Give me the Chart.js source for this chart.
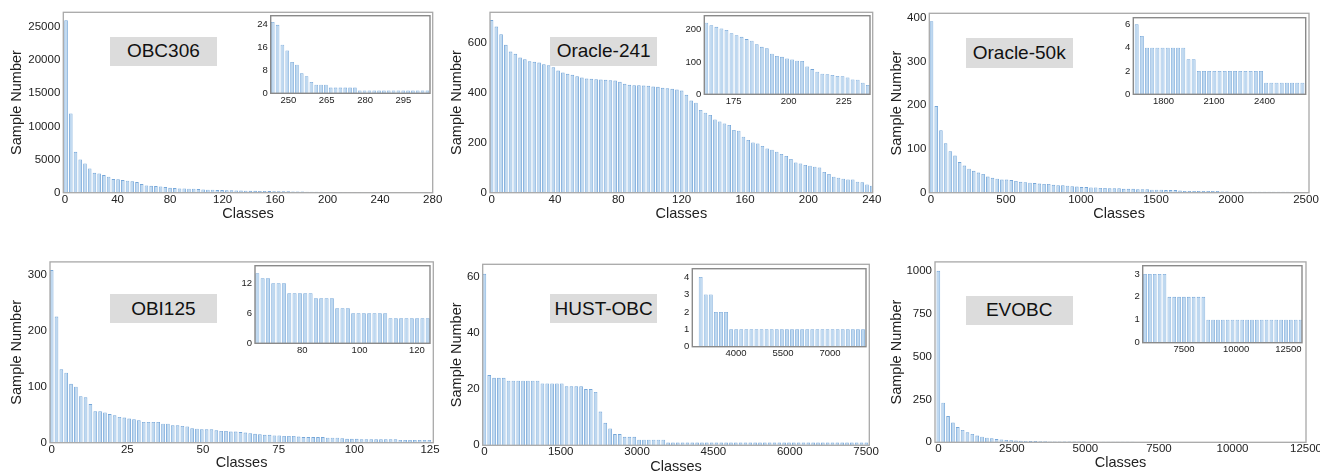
<!DOCTYPE html>
<html lang="en">
<head>
<meta charset="UTF-8">
<title>Sample number per class</title>
<script src="https://cdn.jsdelivr.net/npm/chart.js"></script>
<style>
  html, body { margin: 0; padding: 0; background: #fff; overflow: hidden; }
  body { width: 1320px; height: 472px; position: relative; }
  canvas { position: absolute; }
  .tag {
    position: absolute; background: #dcdcdc; color: #111;
    font-family: "Liberation Sans", Arial, sans-serif; font-size: 19px;
    display: flex; align-items: center; justify-content: center;
  }
</style>
</head>
<body>
<script>
// ---- OBC306 ----
const obc306Values = [26000, 11950, 6170, 5020, 4420, 3660, 3010, 2910, 2660, 2410,
  2060, 2010, 1910, 1810, 1710, 1610, 1300, 1100, 1050, 1000,
  950, 850, 750, 700, 650, 650, 600, 600, 550, 500,
  450, 450, 400, 400, 380, 360, 340, 320, 300, 290,
  280, 260, 250, 240, 230, 220, 210, 200, 190, 180,
  170, 160, 150, 140, 130, 120, 110, 100, 90, 80,
  70, 60, 50, 40, 30];
const obc306First = 0.8, obc306Step = 3.6;
const obc306XTicks = [0, 40, 80, 120, 160, 200, 240, 280];
const obc306YTicks = [0, 5000, 10000, 15000, 20000, 25000];
const obc306InsetValues = [25, 24, 17, 15, 11, 10, 7, 6, 4, 3, 3, 3, 2, 2, 2, 2, 2, 2,
  1, 1, 1, 1, 1, 1, 1, 1, 1, 1, 1, 1, 1, 1, 1];
const obc306InsetFirst = 243.9, obc306InsetStep = 1.89;
const obc306InsetXTicks = [250, 265, 280, 295];
const obc306InsetYTicks = [0, 8, 16, 24];

// ---- Oracle-241 ----
const oracle241Values = [690, 664, 633, 591, 564, 555, 540, 533, 525, 523,
  520, 513, 509, 501, 488, 480, 475, 471, 465, 460,
  456, 455, 453, 452, 451, 449, 448, 443, 435, 431,
  429, 429, 428, 427, 424, 423, 419, 417, 415, 412,
  408, 391, 368, 360, 331, 320, 311, 293, 285, 277,
  271, 251, 248, 224, 211, 201, 197, 187, 177, 172,
  164, 155, 147, 135, 121, 117, 111, 108, 104, 101,
  83, 75, 64, 60, 56, 53, 53, 44, 42, 33, 28];
const oracle241First = 0, oracle241Step = 3;
const oracle241XTicks = [0, 40, 80, 120, 160, 200, 240];
const oracle241YTicks = [0, 200, 400, 600];
const oracle241InsetValues = [222, 214, 209, 204, 199, 189, 183, 178, 171, 166, 155, 147, 143,
  126, 119, 116, 111, 108, 104, 103, 86, 78, 70, 64, 62, 60, 57, 56, 52, 46, 45, 36, 29];
const oracle241InsetFirst = 162.6, oracle241InsetStep = 2.29;
const oracle241InsetXTicks = [175, 200, 225];
const oracle241InsetYTicks = [0, 100, 200];

// ---- Oracle-50k ----
const oracle50kValues = [392, 198, 143, 113, 95, 85, 70, 62, 55, 50,
  46, 43, 37, 34, 32, 30, 30, 29, 27, 25,
  24, 23, 22, 21, 20, 20, 18, 17, 17, 16,
  15, 14, 13, 13, 12, 12, 11, 11, 10, 10,
  10, 9, 9, 9, 8, 8, 8, 7, 7, 7,
  6, 6, 6, 5, 4, 4, 4, 4, 4, 4,
  4, 4, 3, 3, 2, 2, 2, 2, 2, 2,
  2, 2, 2, 2, 2, 2, 2, 1, 1, 1];
const oracle50kFirst = 4, oracle50kStep = 31.25;
const oracle50kXTicks = [0, 500, 1000, 1500, 2000, 2500];
const oracle50kYTicks = [0, 100, 200, 300, 400];
const oracle50kInsetValues = [6, 5, 4, 4, 4, 4, 4, 4, 4, 4, 3, 3,
  2, 2, 2, 2, 2, 2, 2, 2, 2, 2, 2, 2, 2, 1, 1, 1, 1, 1, 1, 1, 1];
const oracle50kInsetFirst = 1640, oracle50kInsetStep = 30.8;
const oracle50kInsetXTicks = [1800, 2100, 2400];
const oracle50kInsetYTicks = [0, 2, 4, 6];

// ---- OBI125 ----
const obi125Values = [308, 225, 131, 125, 105, 100, 83, 81, 69, 56,
  56, 54, 51, 49, 46, 45, 43, 42, 40, 37,
  37, 37, 37, 34, 34, 31, 31, 30, 29, 26,
  25, 24, 24, 24, 22, 21, 21, 20, 20, 19,
  18, 17, 16, 15, 14, 14, 13, 13, 12, 12,
  12, 11, 10, 10, 10, 10, 10, 9, 9, 9,
  8, 7, 7, 7, 6, 6, 6, 6, 6, 6,
  6, 6, 5, 5, 5, 5, 5, 5, 5];
const obi125First = 0, obi125Step = 1.6;
const obi125XTicks = [0, 25, 50, 75, 100, 125];
const obi125YTicks = [0, 100, 200, 300];
const obi125InsetValues = [14, 13, 13, 12, 12, 12, 10, 10, 10, 10, 10, 9, 9, 9, 9,
  7, 7, 7, 6, 6, 6, 6, 6, 6, 6, 5, 5, 5, 5, 5, 5, 5, 5];
const obi125InsetFirst = 64.3, obi125InsetStep = 1.86;
const obi125InsetXTicks = [80, 100, 120];
const obi125InsetYTicks = [0, 6, 12];

// ---- HUST-OBC ----
const hustValues = [61, 25, 24, 24, 24, 23, 23, 23, 23, 23,
  23, 23, 22, 22, 22, 22, 22, 21, 21, 21,
  21, 20, 20, 19, 12, 8, 6, 4, 4, 3,
  3, 3, 2, 2, 2, 2, 2, 2, 1, 1,
  1, 1, 1, 1, 1, 1, 1, 1, 1, 1,
  1, 1, 1, 1, 1, 1, 1, 1, 1, 1,
  1, 1, 1, 1, 1, 1, 1, 1, 1, 1,
  1, 1, 1, 1, 1, 1, 1, 1, 1, 1];
const hustFirst = 0, hustStep = 95;
const hustXTicks = [0, 1500, 3000, 4500, 6000, 7500];
const hustYTicks = [0, 20, 40, 60];
const hustInsetValues = [4, 3, 3, 2, 2, 2, 1, 1, 1, 1, 1, 1, 1, 1, 1, 1, 1,
  1, 1, 1, 1, 1, 1, 1, 1, 1, 1, 1, 1, 1, 1, 1, 1];
const hustInsetFirst = 2873, hustInsetStep = 161.9;
const hustInsetXTicks = [4000, 5500, 7000];
const hustInsetYTicks = [0, 1, 2, 3, 4];

// ---- EVOBC ----
const evobcValues = [1000, 231, 153, 115, 89, 72, 58, 49, 39, 33,
  27, 23, 19, 17, 14, 12, 10, 9, 8, 7,
  7, 6, 6, 5, 5, 5, 4, 4, 4, 4,
  4, 3, 3, 3, 3, 3, 3, 3, 3, 3,
  3, 2, 2, 2, 2, 2, 2, 2, 2, 2,
  2, 2, 1, 1, 1, 1, 1, 1, 1, 1,
  1, 1, 1, 1, 1, 1, 1, 1, 1, 1,
  1, 1, 1, 1, 1, 1];
const evobcFirst = 0, evobcStep = 165;
const evobcXTicks = [0, 2500, 5000, 7500, 10000, 12500];
const evobcYTicks = [0, 250, 500, 750, 1000];
const evobcInsetValues = [3, 3, 3, 3, 3, 2, 2, 2, 2, 2, 2, 2, 2,
  1, 1, 1, 1, 1, 1, 1, 1, 1, 1, 1, 1, 1, 1, 1, 1, 1, 1, 1, 1];
const evobcInsetFirst = 5631, evobcInsetStep = 233;
const evobcInsetXTicks = [7500, 10000, 12500];
const evobcInsetYTicks = [0, 1, 2, 3];

const names = ['OBC306', 'Oracle-241', 'Oracle-50k', 'OBI125', 'HUST-OBC', 'EVOBC'];

const panels = [
  { main: { values: obc306Values, first: obc306First, step: obc306Step, xMin: -1.3, xMax: 280, xTicks: obc306XTicks, yMax: 27200, yTicks: obc306YTicks },
    inset: { values: obc306InsetValues, first: obc306InsetFirst, step: obc306InsetStep, xMin: 243.1, xMax: 305.4, xTicks: obc306InsetXTicks, yMax: 27.2, yTicks: obc306InsetYTicks },
    box: { l: 63.3, r: 432.7, t: 12.3, b: 192.7, yTitle: 16.7, xTitle: 214.3 },
    ibox: { l: 270.7, r: 430, t: 15, b: 93.3 },
    tag: { l: 110, t: 36.7, w: 106.7, h: 29 } },
  { main: { values: oracle241Values, first: oracle241First, step: oracle241Step, xMin: -1, xMax: 240.6, xTicks: oracle241XTicks, yMax: 721, yTicks: oracle241YTicks },
    inset: { values: oracle241InsetValues, first: oracle241InsetFirst, step: oracle241InsetStep, xMin: 161.7, xMax: 236.9, xTicks: oracle241InsetXTicks, yMax: 243.5, yTicks: oracle241InsetYTicks },
    box: { l: 490, r: 872.7, t: 12.3, b: 192.7, yTitle: 456.7, xTitle: 214.3 },
    ibox: { l: 704.3, r: 870, t: 15, b: 94.3 },
    tag: { l: 550, t: 36.7, w: 107.3, h: 29 } },
  { main: { values: oracle50kValues, first: oracle50kFirst, step: oracle50kStep, xMin: -11, xMax: 2520, xTicks: oracle50kXTicks, yMax: 410, yTicks: oracle50kYTicks },
    inset: { values: oracle50kInsetValues, first: oracle50kInsetFirst, step: oracle50kInsetStep, xMin: 1620, xMax: 2645, xTicks: oracle50kInsetXTicks, yMax: 6.57, yTicks: oracle50kInsetYTicks },
    box: { l: 929.3, r: 1309, t: 13.3, b: 192.7, yTitle: 896.7, xTitle: 214.3 },
    ibox: { l: 1133.3, r: 1305.7, t: 16.7, b: 94.3 },
    tag: { l: 965.7, t: 38.3, w: 107, h: 29.4 } },
  { main: { values: obi125Values, first: obi125First, step: obi125Step, xMin: -0.55, xMax: 126.1, xTicks: obi125XTicks, yMax: 322.6, yTicks: obi125YTicks },
    inset: { values: obi125InsetValues, first: obi125InsetFirst, step: obi125InsetStep, xMin: 63.5, xMax: 124.6, xTicks: obi125InsetXTicks, yMax: 15.5, yTicks: obi125InsetYTicks },
    box: { l: 50, r: 433.3, t: 261.7, b: 442.7, yTitle: 16.7, xTitle: 463.3 },
    ibox: { l: 255, r: 430, t: 265, b: 343.3 },
    tag: { l: 110, t: 294, w: 106.7, h: 29.3 } },
  { main: { values: hustValues, first: hustFirst, step: hustStep, xMin: -33, xMax: 7563, xTicks: hustXTicks, yMax: 64.4, yTicks: hustYTicks },
    inset: { values: hustInsetValues, first: hustInsetFirst, step: hustInsetStep, xMin: 2606, xMax: 8149, xTicks: hustInsetXTicks, yMax: 4.48, yTicks: hustInsetYTicks },
    box: { l: 482.7, r: 869.3, t: 264.3, b: 445.3, yTitle: 456.7, xTitle: 466.7 },
    ibox: { l: 692.3, r: 866, t: 268.3, b: 346.7 },
    tag: { l: 550, t: 294, w: 107.3, h: 29.3 } },
  { main: { values: evobcValues, first: evobcFirst, step: evobcStep, xMin: -114, xMax: 12500, xTicks: evobcXTicks, yMax: 1052, yTicks: evobcYTicks },
    inset: { values: evobcInsetValues, first: evobcInsetFirst, step: evobcInsetStep, xMin: 5519, xMax: 13155, xTicks: evobcInsetXTicks, yMax: 3.36, yTicks: evobcInsetYTicks },
    box: { l: 935, r: 1306, t: 261.7, b: 442.3, yTitle: 896.7, xTitle: 463.3 },
    ibox: { l: 1142.7, r: 1302, t: 265, b: 342.7 },
    tag: { l: 965.7, t: 295.7, w: 107, h: 29.3 } }
];

Chart.defaults.font.family = '"Liberation Sans", Arial, sans-serif';
Chart.defaults.color = '#222';

const barFill = 'rgb(190, 216, 240)';
const barEdge = 'rgb(118, 167, 217)';

function framePlugin(color, width, fillWhite) {
  return {
    id: 'frame',
    beforeDraw(chart) {
      if (!fillWhite) return;
      const a = chart.chartArea, ctx = chart.ctx;
      ctx.save();
      ctx.fillStyle = '#fff';
      ctx.fillRect(a.left, a.top, a.right - a.left, a.bottom - a.top);
      ctx.restore();
    },
    afterDraw(chart) {
      const a = chart.chartArea, ctx = chart.ctx;
      ctx.save();
      ctx.strokeStyle = color;
      ctx.lineWidth = width;
      ctx.strokeRect(a.left, a.top, a.right - a.left, a.bottom - a.top);
      ctx.restore();
    }
  };
}

function makeCanvas(left, top, width, height) {
  const c = document.createElement('canvas');
  c.width = width; c.height = height;
  c.style.left = left + 'px'; c.style.top = top + 'px';
  c.style.width = width + 'px'; c.style.height = height + 'px';
  document.body.appendChild(c);
  return c;
}

function drawBars(spec, geo, small) {
  const canvasLeft = geo.canvasLeft;
  const canvasTop = Math.round(geo.t) - geo.padTop;
  const width = Math.ceil(geo.r + geo.padRight - canvasLeft);
  const height = Math.ceil(geo.bottomEdge - canvasTop);
  const yWidth = geo.l - canvasLeft;
  const xHeight = canvasTop + height - geo.b;
  const canvas = makeCanvas(canvasLeft, canvasTop, width, height);

  const tickFont = { size: small ? 9.5 : 11.5 };
  const points = spec.values.map((v, i) => ({ x: spec.first + spec.step * i, y: v }));

  new Chart(canvas, {
    type: 'bar',
    data: {
      datasets: [{
        data: points,
        backgroundColor: barFill,
        borderColor: barEdge,
        borderWidth: small ? 0.8 : 0.9,
        categoryPercentage: 1,
        barPercentage: 0.76
      }]
    },
    options: {
      responsive: false,
      animation: false,
      devicePixelRatio: 1,
      layout: { padding: { top: geo.t - canvasTop, right: canvasLeft + width - geo.r, left: 0, bottom: 0 } },
      plugins: { legend: { display: false }, tooltip: { enabled: false } },
      scales: {
        x: {
          type: 'linear', min: spec.xMin, max: spec.xMax, offset: false,
          grid: { display: false, drawTicks: false }, border: { display: false },
          afterBuildTicks: s => { s.ticks = spec.xTicks.map(v => ({ value: v })); },
          afterFit: s => { s.height = xHeight; },
          ticks: { autoSkip: false, maxRotation: 0, minRotation: 0, padding: small ? 1 : 0, font: tickFont, color: '#222', callback: v => String(v) },
          title: { display: !small, text: 'Classes', color: '#222', font: { size: 14.5 }, padding: { top: 0, bottom: 4 } }
        },
        y: {
          type: 'linear', min: 0, max: spec.yMax,
          grid: { display: false, drawTicks: false }, border: { display: false },
          afterBuildTicks: s => { s.ticks = spec.yTicks.map(v => ({ value: v })); },
          afterFit: s => { s.width = yWidth; },
          ticks: { autoSkip: false, padding: 3, font: tickFont, color: '#222', callback: v => String(v) },
          title: { display: !small, text: 'Sample Number', color: '#222', font: { size: 14.5 }, padding: { top: 4, bottom: 0 } }
        }
      }
    },
    plugins: [small ? framePlugin('#8a8a8a', 1.4, true) : framePlugin('#a8a8a8', 1.3, false)]
  });
}

panels.forEach((p, k) => {
  const b = p.box;
  drawBars(p.main, {
    l: b.l, r: b.r, t: b.t, b: b.b,
    canvasLeft: Math.round(b.yTitle - 12.7),
    padTop: 10, padRight: 16,
    bottomEdge: b.xTitle + 12.7
  }, false);

  const tag = document.createElement('div');
  tag.className = 'tag';
  tag.textContent = names[k];
  tag.style.left = p.tag.l + 'px'; tag.style.top = p.tag.t + 'px';
  tag.style.width = p.tag.w + 'px'; tag.style.height = p.tag.h + 'px';
  document.body.appendChild(tag);

  const ib = p.ibox;
  drawBars(p.inset, {
    l: ib.l, r: ib.r, t: ib.t, b: ib.b,
    canvasLeft: Math.round(ib.l - 30),
    padTop: 8, padRight: 12,
    bottomEdge: ib.b + 14
  }, true);
});
</script>
</body>
</html>
